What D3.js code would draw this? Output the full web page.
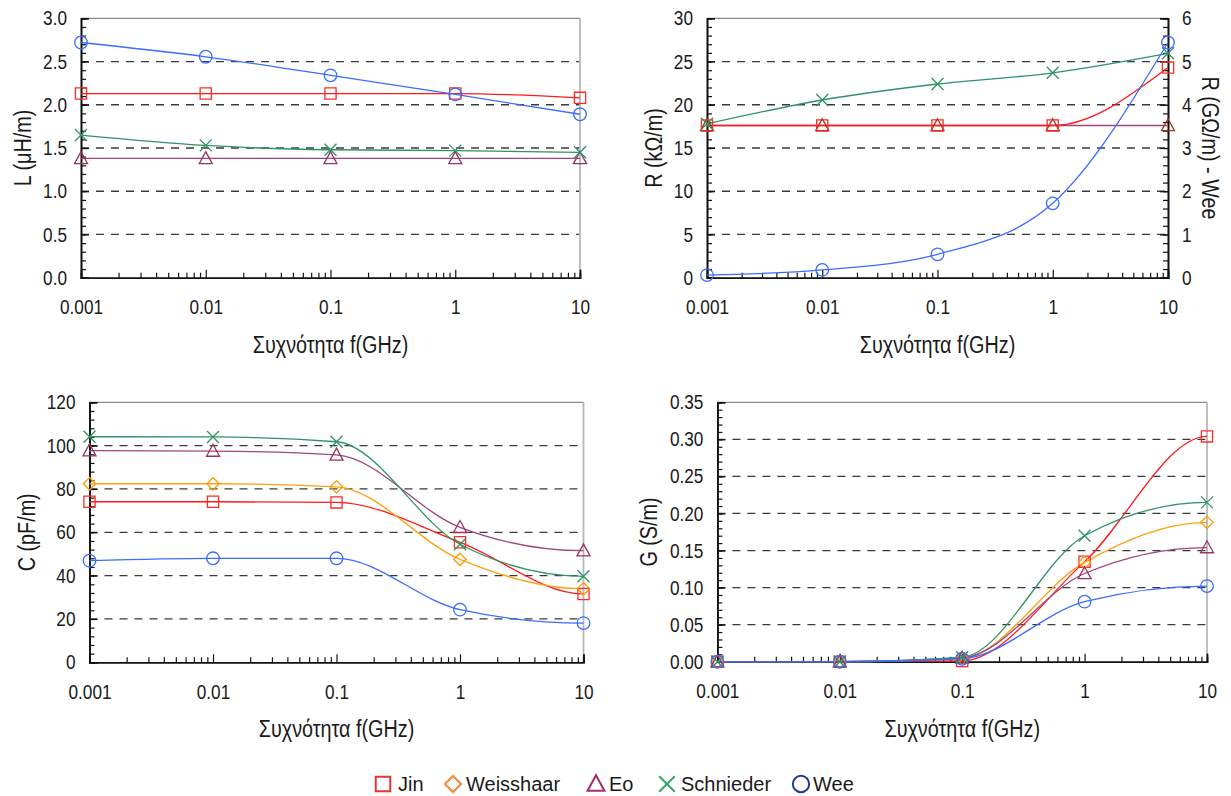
<!DOCTYPE html>
<html><head><meta charset="utf-8">
<script src="https://cdn.jsdelivr.net/npm/d3@7"></script>
<style>
html,body{margin:0;padding:0;background:#fff;}
svg text{font-family:"Liberation Sans",Arial,sans-serif;fill:#1a1a1a;}
</style></head>
<body>
<svg id="chart" width="1231" height="796"></svg>
<script>
// ---------------- data ----------------
const freqs = [0.001, 0.01, 0.1, 1, 10];
const freqLabels = ["0.001", "0.01", "0.1", "1", "10"];
const seriesNames = ["Jin", "Weisshaar", "Eo", "Schnieder", "Wee"];

const L_Jin = [2.13, 2.13, 2.13, 2.13, 2.08];
const L_Eo = [1.38, 1.38, 1.38, 1.38, 1.38];
const L_Schnieder = [1.65, 1.53, 1.48, 1.47, 1.45];
const L_Wee = [2.72, 2.555, 2.34, 2.12, 1.89];

const R_Jin = [17.6, 17.6, 17.6, 17.6, 24.3];
const R_Eo = [17.6, 17.6, 17.6, 17.6, 17.6];
const R_Schnieder = [17.8, 20.55, 22.4, 23.7, 25.95];
const R_Wee_GOhm = [0.06, 0.18, 0.54, 1.72, 5.44];

const C_Jin = [74.1, 74.1, 73.8, 55.4, 31.5];
const C_Weisshaar = [82.4, 82.4, 81.0, 47.5, 34.0];
const C_Eo = [97.7, 97.5, 95.7, 62.3, 51.5];
const C_Schnieder = [104.1, 104.0, 101.8, 54.5, 39.7];
const C_Wee = [46.9, 48.0, 48.0, 24.3, 18.1];

const G_Jin = [0, 0, 0.001, 0.135, 0.304];
const G_Weisshaar = [0, 0, 0.005, 0.134, 0.188];
const G_Eo = [0, 0, 0.005, 0.119, 0.154];
const G_Schnieder = [0, 0, 0.006, 0.170, 0.215];
const G_Wee = [0, 0, 0.004, 0.081, 0.102];

const L_ticks = [0, 0.5, 1.0, 1.5, 2.0, 2.5, 3.0];
const L_tickLabels = ["0.0", "0.5", "1.0", "1.5", "2.0", "2.5", "3.0"];
const R_ticks = [0, 5, 10, 15, 20, 25, 30];
const R_tickLabels = ["0", "5", "10", "15", "20", "25", "30"];
const R2_ticks = [0, 1, 2, 3, 4, 5, 6];
const R2_tickLabels = ["0", "1", "2", "3", "4", "5", "6"];
const C_ticks = [0, 20, 40, 60, 80, 100, 120];
const C_tickLabels = ["0", "20", "40", "60", "80", "100", "120"];
const G_ticks = [0, 0.05, 0.10, 0.15, 0.20, 0.25, 0.30, 0.35];
const G_tickLabels = ["0.00", "0.05", "0.10", "0.15", "0.20", "0.25", "0.30", "0.35"];

const xTitle = "Συχνότητα f(GHz)";

// ---------------- styles ----------------
const lineColor = {Jin:"#ff1a1a", Weisshaar:"#ffa010", Eo:"#a0467a", Schnieder:"#2f9363", Wee:"#3a6cff"};
const markColor = {Jin:"#ff2a2a", Weisshaar:"#ff9a00", Eo:"#993366", Schnieder:"#2f9363", Wee:"#3a6cff"};
const legendColor = {Jin:"#e53535", Weisshaar:"#ef8a35", Eo:"#a3306e", Schnieder:"#36a468", Wee:"#1f3e8c"};
const shape = {Jin:"square", Weisshaar:"diamond", Eo:"triangle", Schnieder:"x", Wee:"circle"};
const TICK_FS = 20.5, TICK_NARROW = 0.84, TITLE_FS = 23, TITLE_NARROW = 0.86;

function narrowBy(k) {
  return sel => sel.each(function () {
    const len = this.getComputedTextLength();
    if (len > 0) {
      this.setAttribute("textLength", (len * k).toFixed(2));
      this.setAttribute("lengthAdjust", "spacingAndGlyphs");
    }
  });
}

function markerPath(s, cx, cy, k) {
  k = k || 1;
  const p = d3.path();
  if (s === "square") { const h = 5.6*k; p.rect(cx-h, cy-h, 2*h, 2*h); }
  else if (s === "diamond") { const h = 6.2*k; p.moveTo(cx, cy-h); p.lineTo(cx+h, cy); p.lineTo(cx, cy+h); p.lineTo(cx-h, cy); p.closePath(); }
  else if (s === "triangle") { const w = 6.5*k, t = 6.8*k, b = 5.2*k; p.moveTo(cx, cy-t); p.lineTo(cx+w, cy+b); p.lineTo(cx-w, cy+b); p.closePath(); }
  else if (s === "x") { const h = 6*k; p.moveTo(cx-h, cy-h); p.lineTo(cx+h, cy+h); p.moveTo(cx+h, cy-h); p.lineTo(cx-h, cy+h); }
  else { const r = 6.3*k; p.moveTo(cx+r, cy); p.arc(cx, cy, r, 0, 2*Math.PI); }
  return p.toString();
}

// monotone cubic Hermite through the scaled points; optionally flat at the right end
function smoothPath(pts, flatEnd) {
  const n = pts.length;
  const h = [], s = [], m = new Array(n).fill(0);
  for (let i = 0; i < n - 1; i++) {
    h.push(pts[i+1][0] - pts[i][0]);
    s.push((pts[i+1][1] - pts[i][1]) / h[i]);
  }
  for (let i = 1; i < n - 1; i++) {
    const s0 = s[i-1], s1 = s[i];
    if (s0 * s1 <= 0) { m[i] = 0; continue; }
    const p = (s0 * h[i] + s1 * h[i-1]) / (h[i-1] + h[i]);
    m[i] = (Math.sign(s0) + Math.sign(s1)) * Math.min(Math.abs(s0), Math.abs(s1), 0.5 * Math.abs(p));
  }
  m[0] = (3 * s[0] - m[1]) / 2;
  if (Math.sign(m[0]) !== Math.sign(s[0])) m[0] = 0;
  if (flatEnd) m[n-1] = 0;
  else { m[n-1] = (3 * s[n-2] - m[n-2]) / 2; if (Math.sign(m[n-1]) !== Math.sign(s[n-2])) m[n-1] = 0; }
  const path = d3.path();
  path.moveTo(pts[0][0], pts[0][1]);
  for (let i = 0; i < n - 1; i++) {
    const d = h[i] / 3;
    path.bezierCurveTo(pts[i][0] + d, pts[i][1] + m[i] * d,
                       pts[i+1][0] - d, pts[i+1][1] - m[i+1] * d,
                       pts[i+1][0], pts[i+1][1]);
  }
  return path.toString();
}

const panels = [
  { x0:81, x1:580, y0:18.3, y1:277.7, dom:[0,3], ticks:L_ticks, labels:L_tickLabels, minor:0.1,
    title:"L (μH/m)", titleX:23, flatEnd:false,
    series:[["Jin",L_Jin],["Eo",L_Eo],["Schnieder",L_Schnieder],["Wee",L_Wee]] },
  { x0:707, x1:1168, y0:18.3, y1:277.7, dom:[0,30], ticks:R_ticks, labels:R_tickLabels, minor:1,
    title:"R (kΩ/m)", titleX:654, flatEnd:false,
    right:{dom:[0,6], ticks:R2_ticks, labels:R2_tickLabels, minor:0.2, title:"R (GΩ/m) - Wee", titleX:1210},
    series:[["Eo",R_Eo],["Jin",R_Jin],["Schnieder",R_Schnieder],["Wee",R_Wee_GOhm,true]],
    override:{Eo:"#9a3a1c"} },
  { x0:89.5, x1:583.5, y0:402.3, y1:662.3, dom:[0,120], ticks:C_ticks, labels:C_tickLabels, minor:4,
    title:"C (pF/m)", titleX:27, flatEnd:true,
    series:[["Jin",C_Jin],["Weisshaar",C_Weisshaar],["Eo",C_Eo],["Schnieder",C_Schnieder],["Wee",C_Wee]] },
  { x0:717.4, x1:1207, y0:402.3, y1:661.7, dom:[0,0.35], ticks:G_ticks, labels:G_tickLabels, minor:0.01,
    title:"G (S/m)", titleX:649, flatEnd:true,
    series:[["Jin",G_Jin],["Weisshaar",G_Weisshaar],["Eo",G_Eo],["Schnieder",G_Schnieder],["Wee",G_Wee]] }
];

const svg = d3.select("#chart");

function minorVals(dom, step) {
  const n = Math.round((dom[1]-dom[0])/step);
  return d3.range(n+1).map(i => dom[0] + i*step);
}
const xMinor = [];
[0.001, 0.01, 0.1, 1].forEach(d => { for (let m = 2; m <= 9; m++) xMinor.push(d*m); });

function styleAxis(a) {
  a.select(".domain").attr("stroke", "#111").attr("stroke-width", 1.6);
  a.selectAll(".tick line").attr("stroke", "#111").attr("stroke-width", 1.2);
}
function styleLabels(a) {
  a.selectAll(".tick text").attr("font-size", TICK_FS).attr("fill", "#1a1a1a")
    .style("font-family", '"Liberation Sans",Arial,sans-serif').call(narrowBy(TICK_NARROW));
}

panels.forEach(P => {
  const g = svg.append("g");
  const x = d3.scaleLog().domain([0.001, 10]).range([P.x0, P.x1]);
  const y = d3.scaleLinear().domain(P.dom).range([P.y1, P.y0]);
  const yR = P.right ? d3.scaleLinear().domain(P.right.dom).range([P.y1, P.y0]) : null;

  // gridlines (dashed)
  g.append("g").selectAll("line").data(P.ticks.slice(1, -1)).join("line")
    .attr("x1", P.x0).attr("x2", P.x1)
    .attr("y1", d => y(d)).attr("y2", d => y(d))
    .attr("stroke", "#3a3a3a").attr("stroke-width", 1.3).attr("stroke-dasharray", "8,7");

  // frame (top and right)
  g.append("line").attr("x1", P.x0).attr("x2", P.x1).attr("y1", P.y0).attr("y2", P.y0)
    .attr("stroke", "#8a8a8a").attr("stroke-width", 1.2);
  if (!P.right) {
    g.append("line").attr("x1", P.x1).attr("x2", P.x1).attr("y1", P.y0).attr("y2", P.y1)
      .attr("stroke", "#b8b8b8").attr("stroke-width", 1.8);
  }

  // left axis
  const ya = g.append("g").attr("transform", `translate(${P.x0},0)`)
    .call(d3.axisLeft(y).tickValues(minorVals(P.dom, P.minor)).tickSize(-5).tickFormat(""));
  const yb = g.append("g").attr("transform", `translate(${P.x0},0)`)
    .call(d3.axisLeft(y).tickValues(P.ticks).tickSize(-8).tickPadding(14).tickFormat((d, i) => P.labels[i]));
  styleAxis(ya); styleAxis(yb); styleLabels(yb);

  // right axis
  if (P.right) {
    const ra = g.append("g").attr("transform", `translate(${P.x1},0)`)
      .call(d3.axisRight(yR).tickValues(minorVals(P.right.dom, P.right.minor)).tickSize(-5).tickFormat(""));
    const rb = g.append("g").attr("transform", `translate(${P.x1},0)`)
      .call(d3.axisRight(yR).tickValues(P.right.ticks).tickSize(-8).tickPadding(14).tickFormat((d, i) => P.right.labels[i]));
    styleAxis(ra); styleAxis(rb); styleLabels(rb);
    g.append("text").attr("transform", `translate(${P.right.titleX},${(P.y0+P.y1)/2}) rotate(90)`)
      .attr("text-anchor", "middle").attr("dominant-baseline", "central")
      .attr("font-size", TITLE_FS).text(P.right.title).call(narrowBy(TITLE_NARROW));
  }

  // bottom axis
  const xa = g.append("g").attr("transform", `translate(0,${P.y1})`)
    .call(d3.axisBottom(x).tickValues(xMinor).tickSize(-5).tickFormat(""));
  const xb = g.append("g").attr("transform", `translate(0,${P.y1})`)
    .call(d3.axisBottom(x).tickValues(freqs).tickSize(-8).tickPadding(22).tickFormat((d, i) => freqLabels[i]));
  styleAxis(xa); styleAxis(xb); styleLabels(xb);

  // titles
  g.append("text").attr("x", (P.x0+P.x1)/2).attr("y", P.y1 + 75)
    .attr("text-anchor", "middle").attr("font-size", TITLE_FS).text(xTitle).call(narrowBy(TITLE_NARROW));
  g.append("text").attr("transform", `translate(${P.titleX},${(P.y0+P.y1)/2}) rotate(-90)`)
    .attr("text-anchor", "middle").attr("dominant-baseline", "central")
    .attr("font-size", TITLE_FS).text(P.title).call(narrowBy(TITLE_NARROW));

  // series lines
  P.series.forEach(([name, vals, useRight]) => {
    const ys = useRight ? yR : y;
    const pts = freqs.map((f, i) => [x(f), ys(vals[i])]);
    g.append("path").attr("d", smoothPath(pts, P.flatEnd)).attr("fill", "none")
      .attr("stroke", lineColor[name]).attr("stroke-width", 1.3);
  });
  // markers
  P.series.forEach(([name, vals, useRight]) => {
    const ys = useRight ? yR : y;
    const col = (P.override && P.override[name]) || markColor[name];
    g.append("g").selectAll("path").data(freqs).join("path")
      .attr("d", (f, i) => markerPath(shape[name], x(f), ys(vals[i])))
      .attr("fill", "none").attr("stroke", col).attr("stroke-width", 1.3);
  });
});

// legend
const legendItems = [
  {name:"Jin", mx:383, tx:398},
  {name:"Weisshaar", mx:453, tx:466},
  {name:"Eo", mx:596, tx:609},
  {name:"Schnieder", mx:667, tx:681},
  {name:"Wee", mx:801, tx:813}
];
const lg = svg.append("g").attr("class", "legend");
legendItems.forEach(it => {
  lg.append("path").attr("d", markerPath(shape[it.name], it.mx, 784, 1.3))
    .attr("fill", "none").attr("stroke", legendColor[it.name]).attr("stroke-width", 2);
  lg.append("text").attr("x", it.tx).attr("y", 784).attr("dominant-baseline", "central")
    .attr("font-size", 20).attr("fill", "#222").text(it.name);
});
</script>
</body></html>
